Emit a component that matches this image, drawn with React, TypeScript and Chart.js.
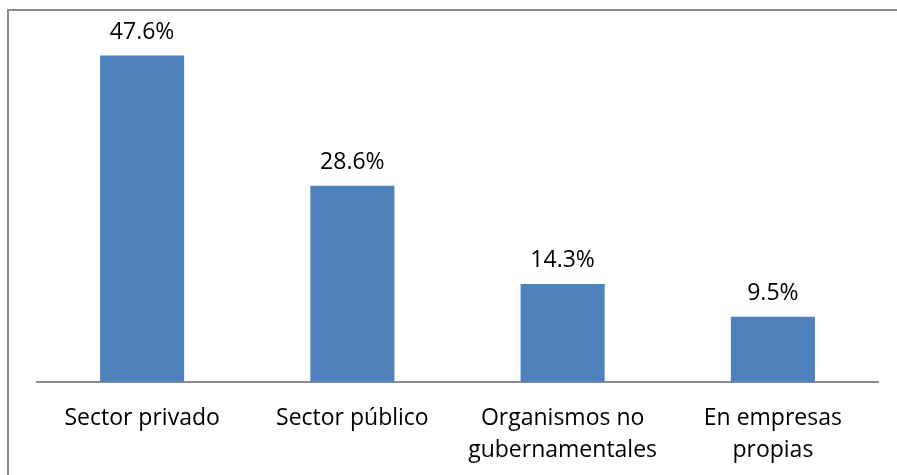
import React, { useEffect, useRef } from "react";
import { Chart, registerables } from "chart.js";

Chart.register(...registerables);

const categories: (string | string[])[] = [
  "Sector privado",
  "Sector público",
  ["Organismos no", "gubernamentales"],
  ["En empresas", "propias"],
];
const values: number[] = [47.6, 28.6, 14.3, 9.5];
const valueLabels: string[] = ["47.6%", "28.6%", "14.3%", "9.5%"];

const FONT = "'Open Sans', 'Noto Sans', sans-serif";

const frame = {
  id: "frame",
  beforeDraw(chart: any) {
    const ctx = chart.ctx;
    ctx.save();
    ctx.strokeStyle = "#8a8a8a";
    ctx.lineWidth = 2;
    ctx.beginPath();
    ctx.moveTo(8, chart.height);
    ctx.lineTo(8, 10);
    ctx.lineTo(chart.width, 10);
    ctx.stroke();
    ctx.restore();
  },
};

const barLabels = {
  id: "barLabels",
  afterDatasetsDraw(chart: any) {
    const ctx = chart.ctx;
    const meta = chart.getDatasetMeta(0);
    ctx.save();
    ctx.fillStyle = "#000";
    ctx.font = `23px ${FONT}`;
    ctx.textAlign = "center";
    ctx.textBaseline = "middle";
    meta.data.forEach((el: any, i: number) => {
      ctx.fillText(valueLabels[i], el.x, el.y - 23);
    });
    ctx.restore();
  },
};

export default function App() {
  const ref = useRef<HTMLCanvasElement>(null);
  useEffect(() => {
    document.body.style.margin = "0";
    const chart = new Chart(ref.current!, {
      type: "bar",
      data: {
        labels: categories,
        datasets: [
          {
            data: values,
            backgroundColor: "#4F81BD",
            categoryPercentage: 1,
            barPercentage: 0.4,
          },
        ],
      },
      options: {
        animation: false,
        responsive: false,
        layout: { padding: { left: 37, right: 19, top: 39, bottom: 0 } },
        plugins: { legend: { display: false }, tooltip: { enabled: false } },
        scales: {
          y: { display: false, min: 0, max: 50 },
          x: {
            grid: { display: false, drawTicks: false },
            border: { display: true, color: "#8c8c8c", width: 2 },
            ticks: {
              color: "#000",
              padding: 20,
              maxRotation: 0,
              autoSkip: false,
              font: { family: FONT, size: 23, lineHeight: 1.4 },
            },
            afterFit(scale: any) {
              scale.height = 93;
            },
          },
        },
      },
      plugins: [frame, barLabels],
    });
    return () => chart.destroy();
  }, []);
  return (
    <div style={{ position: "absolute", left: 0, top: 0, width: 897, height: 475, background: "#fff" }}>
      <canvas ref={ref} width={897} height={475} />
    </div>
  );
}
